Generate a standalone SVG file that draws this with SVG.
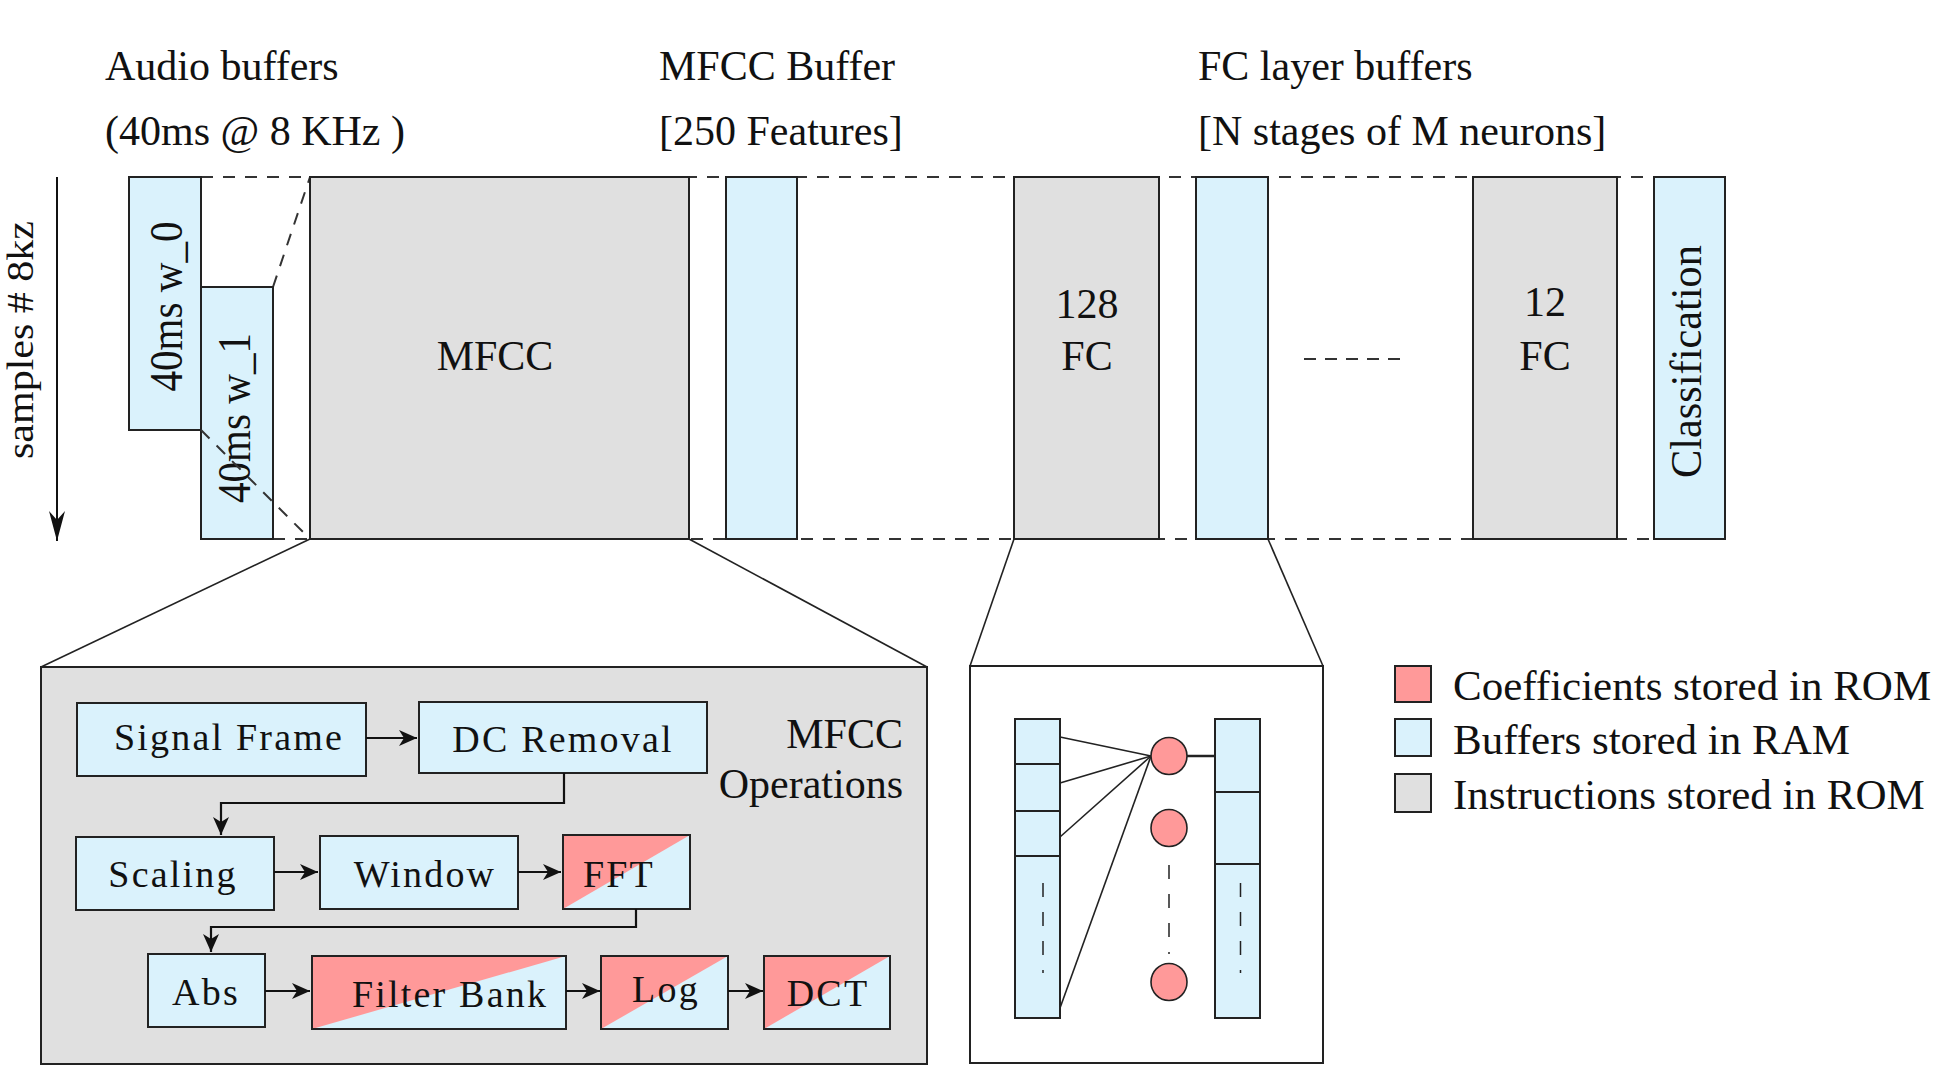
<svg xmlns="http://www.w3.org/2000/svg" width="1956" height="1076" viewBox="0 0 1956 1076">
  <style>
    text { font-family: "Liberation Serif", "Times New Roman", serif; fill: #111; }
    .hdr { font-size: 42px; }
    .lbl { font-size: 42px; text-anchor: middle; }
    .op { font-size: 38px; text-anchor: middle; letter-spacing: 2.2px; }
    .leg { font-size: 43px; }
    .ram { fill: #daf2fc; stroke: #222; stroke-width: 2; }
    .rom { fill: #e0e0e0; stroke: #222; stroke-width: 2; }
    .coef { fill: #ff9999; stroke: #222; stroke-width: 2; }
    .frame { fill: none; stroke: #222; stroke-width: 2; }
    .dash { fill: none; stroke: #333; stroke-width: 2; stroke-dasharray: 12 10; }
    .flow { fill: none; stroke: #111; stroke-width: 2.2; marker-end: url(#head); }
    .thin { fill: none; stroke: #222; stroke-width: 1.6; }
  </style>
  <defs>
    <marker id="head" viewBox="-20 -9 21 18" markerWidth="21" markerHeight="18" refX="0" refY="0" markerUnits="userSpaceOnUse" orient="auto">
      <path d="M0,0 L-18,-8 L-13,0 L-18,8 Z" fill="#111"/>
    </marker>
    <marker id="bighead" viewBox="-32 -9 33 18" markerWidth="33" markerHeight="18" refX="0" refY="0" markerUnits="userSpaceOnUse" orient="auto">
      <path d="M0,0 L-30,-8 L-21,0 L-30,8 Z" fill="#111"/>
    </marker>
  </defs>

  <rect width="1956" height="1076" fill="#fff"/>

  <!-- section headings -->
  <g id="headings">
    <text class="hdr" x="105" y="80">Audio buffers</text>
    <text class="hdr" x="105" y="145">(40ms @ 8 KHz )</text>
    <text class="hdr" x="659" y="80">MFCC Buffer</text>
    <text class="hdr" x="659" y="145">[250 Features]</text>
    <text class="hdr" x="1198" y="80">FC layer buffers</text>
    <text class="hdr" x="1198" y="145">[N stages of M neurons]</text>
  </g>

  <!-- connectors: memory guide lines, zoom outlines and data flow -->
  <g id="connectors">
    <line class="dash" x1="201" y1="177" x2="1726" y2="177"/>
    <line class="dash" x1="273" y1="539" x2="1726" y2="539"/>
    <line class="dash" x1="273" y1="287" x2="310" y2="177"/>
    <line class="dash" x1="1304" y1="359" x2="1400" y2="359" style="stroke-dasharray: 12 9"/>
    <line x1="57" y1="177" x2="57" y2="541" stroke="#111" stroke-width="2" marker-end="url(#bighead)"/>
    <line class="thin" x1="310" y1="539" x2="41" y2="667"/>
    <line class="thin" x1="689" y1="539" x2="927" y2="667"/>
    <line class="thin" x1="1014" y1="539" x2="970" y2="666"/>
    <line class="thin" x1="1268" y1="539" x2="1323" y2="666"/>
  </g>

  <!-- axis label -->
  <text id="axis-label" x="33" y="340" transform="rotate(-90 33 340)" style="font-size:37px" text-anchor="middle" textLength="238" lengthAdjust="spacingAndGlyphs">samples # 8kz</text>

  <!-- audio buffers -->
  <g id="w0">
    <rect class="ram" x="129" y="177" width="72" height="253"/>
    <text x="181.5" y="306.5" transform="rotate(-90 181.5 306.5)" style="font-size:46px" text-anchor="middle" textLength="170" lengthAdjust="spacingAndGlyphs">40ms w_0</text>
  </g>
  <g id="w1">
    <rect class="ram" x="201" y="287" width="72" height="252"/>
    <text x="250" y="418" transform="rotate(-90 250 418)" style="font-size:46px" text-anchor="middle" textLength="170" lengthAdjust="spacingAndGlyphs">40ms w_1</text>
  </g>
  <!-- dashed diagonal drawn over w_1 -->
  <line class="dash" x1="201" y1="430" x2="310" y2="539"/>

  <g id="mfcc">
    <rect class="rom" x="310" y="177" width="379" height="362"/>
    <text class="lbl" x="495" y="370">MFCC</text>
  </g>
  <g id="mfcc-buffer">
    <rect class="ram" x="726" y="177" width="71" height="362"/>
  </g>
  <g id="fc128">
    <rect class="rom" x="1014" y="177" width="145" height="362"/>
    <text class="lbl" x="1087" y="318">128</text>
    <text class="lbl" x="1087" y="370">FC</text>
  </g>
  <g id="fc-buffer">
    <rect class="ram" x="1196" y="177" width="72" height="362"/>
  </g>
  <g id="fc12">
    <rect class="rom" x="1473" y="177" width="144" height="362"/>
    <text class="lbl" x="1545" y="316">12</text>
    <text class="lbl" x="1545" y="370">FC</text>
  </g>
  <g id="classification">
    <rect class="ram" x="1654" y="177" width="71" height="362"/>
    <text x="1701" y="361.5" transform="rotate(-90 1701 361.5)" style="font-size:44px" text-anchor="middle" textLength="233" lengthAdjust="spacingAndGlyphs">Classification</text>
  </g>

  <!-- MFCC operations panel -->
  <g id="mfcc-ops">
    <rect class="rom" x="41" y="667" width="886" height="397"/>
    <text class="hdr" x="903" y="748" text-anchor="end">MFCC</text>
    <text class="hdr" x="903" y="798" text-anchor="end">Operations</text>
  </g>
  <g id="signal-frame">
    <rect class="ram" x="77" y="703" width="289" height="73"/>
    <text class="op" x="229" y="750">Signal Frame</text>
  </g>
  <g id="dc-removal">
    <rect class="ram" x="419" y="702" width="288" height="71"/>
    <text class="op" x="563" y="752">DC Removal</text>
  </g>
  <g id="scaling">
    <rect class="ram" x="76" y="837" width="198" height="73"/>
    <text class="op" x="173" y="887">Scaling</text>
  </g>
  <g id="window">
    <rect class="ram" x="320" y="836" width="198" height="73"/>
    <text class="op" x="425" y="887">Window</text>
  </g>
  <g id="fft">
    <rect x="563" y="835" width="127" height="74" fill="#daf2fc"/>
    <polygon points="563,835 690,835 563,909" fill="#ff9999"/>
    <rect class="frame" x="563" y="835" width="127" height="74"/>
    <text class="op" x="619" y="887">FFT</text>
  </g>
  <g id="abs">
    <rect class="ram" x="148" y="954" width="117" height="73"/>
    <text class="op" x="206" y="1005">Abs</text>
  </g>
  <g id="filter-bank">
    <rect x="312" y="956" width="254" height="73" fill="#daf2fc"/>
    <polygon points="312,956 566,956 312,1029" fill="#ff9999"/>
    <rect class="frame" x="312" y="956" width="254" height="73"/>
    <text class="op" x="450" y="1007">Filter Bank</text>
  </g>
  <g id="log">
    <rect x="601" y="956" width="127" height="73" fill="#daf2fc"/>
    <polygon points="601,956 728,956 601,1029" fill="#ff9999"/>
    <rect class="frame" x="601" y="956" width="127" height="73"/>
    <text class="op" x="666" y="1002">Log</text>
  </g>
  <g id="dct">
    <rect x="764" y="956" width="126" height="73" fill="#daf2fc"/>
    <polygon points="764,956 890,956 764,1029" fill="#ff9999"/>
    <rect class="frame" x="764" y="956" width="126" height="73"/>
    <text class="op" x="828" y="1006">DCT</text>
  </g>

  <g id="mfcc-flow">
    <line class="flow" x1="366" y1="738" x2="417" y2="738"/>
    <polyline class="flow" points="564,773 564,803 221,803 221,835"/>
    <line class="flow" x1="274" y1="872" x2="318" y2="872"/>
    <line class="flow" x1="518" y1="872" x2="561" y2="872"/>
    <polyline class="flow" points="636,909 636,927 211,927 211,952"/>
    <line class="flow" x1="265" y1="991" x2="310" y2="991"/>
    <line class="flow" x1="566" y1="991" x2="600" y2="991"/>
    <line class="flow" x1="728" y1="991" x2="763" y2="991"/>
  </g>

  <!-- fully connected layer detail -->
  <g id="fc-detail">
    <rect x="970" y="666" width="353" height="397" fill="#fff" stroke="#222" stroke-width="2"/>
    <g id="fc-input-buffer">
      <rect class="ram" x="1015" y="719" width="45" height="299"/>
      <line class="frame" x1="1015" y1="764" x2="1060" y2="764"/>
      <line class="frame" x1="1015" y1="811" x2="1060" y2="811"/>
      <line class="frame" x1="1015" y1="856" x2="1060" y2="856"/>
      <line x1="1043" y1="883" x2="1043" y2="973" stroke="#222" stroke-width="1.5" stroke-dasharray="14 15"/>
    </g>
    <g id="fc-output-buffer">
      <rect class="ram" x="1215" y="719" width="45" height="299"/>
      <line class="frame" x1="1215" y1="792" x2="1260" y2="792"/>
      <line class="frame" x1="1215" y1="864" x2="1260" y2="864"/>
      <line x1="1240.5" y1="883" x2="1240.5" y2="973" stroke="#222" stroke-width="1.5" stroke-dasharray="14 15"/>
    </g>
    <g id="fc-weights">
      <line class="thin" x1="1060" y1="737" x2="1151" y2="756"/>
      <line class="thin" x1="1060" y1="783" x2="1151" y2="756"/>
      <line class="thin" x1="1060" y1="837" x2="1151" y2="756"/>
      <line class="thin" x1="1060" y1="1008" x2="1151" y2="756"/>
      <line x1="1187" y1="756" x2="1215" y2="756" stroke="#222" stroke-width="2.5"/>
      <line x1="1169" y1="865" x2="1169" y2="954" stroke="#222" stroke-width="1.5" stroke-dasharray="14 15"/>
    </g>
    <g id="neurons">
      <ellipse class="coef" cx="1169" cy="756" rx="18" ry="18.5" style="stroke-width:1.6"/>
      <ellipse class="coef" cx="1169" cy="828" rx="18" ry="18.5" style="stroke-width:1.6"/>
      <ellipse class="coef" cx="1169" cy="982" rx="18" ry="18.5" style="stroke-width:1.6"/>
    </g>
  </g>

  <!-- legend -->
  <g id="legend">
    <rect class="coef" x="1395" y="666" width="36" height="36"/>
    <text class="leg" x="1453" y="700">Coefficients stored in ROM</text>
    <rect class="ram" x="1395" y="719" width="36" height="37"/>
    <text class="leg" x="1453" y="754">Buffers stored in RAM</text>
    <rect class="rom" x="1395" y="774" width="36" height="38"/>
    <text class="leg" x="1453" y="809">Instructions stored in ROM</text>
  </g>
</svg>
